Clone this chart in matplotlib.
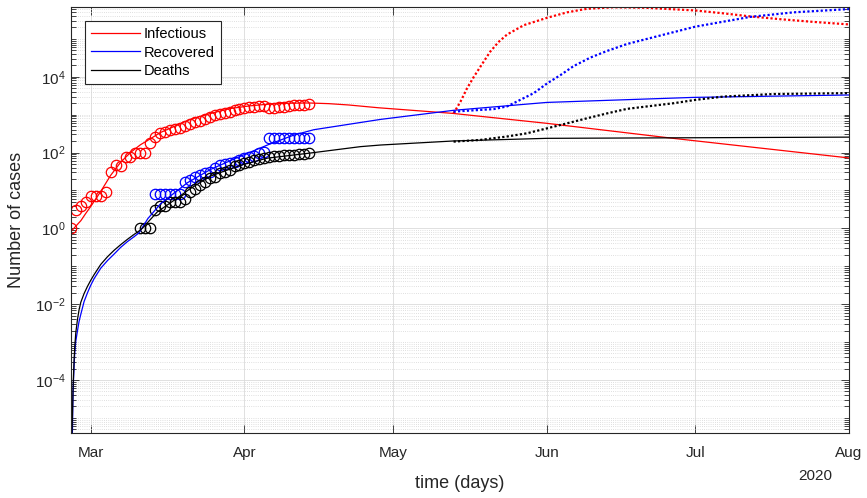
import numpy as np
import matplotlib
matplotlib.use('Agg')
import matplotlib.pyplot as plt
import matplotlib.dates as mdates
from matplotlib.ticker import LogLocator, NullFormatter

plt.rcParams['font.family'] = ['Liberation Sans', 'DejaVu Sans']
plt.rcParams['mathtext.default'] = 'regular'

#observations, one per day from Feb 26
start_date  = '2020-02-26'
inf_obs     = [1, 3, 4, 5, 7, 7, 7, 9, 30,
               46, 45, 74, 74, 96, 100, 96, 175,
               250, 320, 345, 390, 420, 450, 500, 570,
               625, 700, 790, 880, 960, 1040, 1120, 1200,
               1300, 1420, 1520, 1570, 1610, 1640, 1670, 1480,
               1500, 1560, 1620, 1700, 1780, 1820, 1850, 1870]
rec_first   = 17                        #day index of first recovered value
rec_obs     = [8, 8, 8, 8, 8, 8, 17, 19, 22, 26, 28, 31, 40, 47, 49, 53, 58,
               65, 71, 78, 83, 95, 106, 237, 237, 237, 237, 237, 237, 237, 237, 237]
dea_first   = 14                        #day index of first death value
dea_obs     = [1, 1, 1, 3, 4, 4, 5, 5, 5, 6, 9, 11, 14, 17, 21, 23, 28, 31, 35, 43,
               47, 52, 58, 62, 68, 72, 76, 79, 82, 84, 86, 88, 90, 92, 95]

#fitted model (solid), days since Feb 26
inf_fit_day = [0, 1, 2, 3, 4, 6, 8, 10, 12, 14, 16, 18, 21, 24, 28, 32, 36, 40, 44, 48,
               52, 56, 62, 77, 96, 121.5, 157]
inf_fit     = [0.83, 1.15, 1.6, 2.5, 3.8, 9.4, 25, 55, 100, 160, 230, 335, 500, 740, 1060,
               1440, 1700, 1900, 2000, 2030, 1950, 1800, 1520, 1080, 590, 237, 72]
rec_fit_day = [0.1, 0.3, 0.36, 0.42, 0.5, 0.63, 0.77, 0.97, 1.31, 1.63, 1.98, 2.64, 3.33,
               3.99, 4.66, 6.01, 7.36, 8.69, 10.04, 11.39, 12.72, 13.73, 15.5, 18.1,
               23.5, 28.2, 34.2, 40, 45, 49, 58.4, 62.5, 77.2, 96, 125.6, 157]
rec_fit     = [1e-6, 5.0e-6, 2.0e-5, 5.0e-5, 9.3e-5, 2.5e-4, 5.6e-4, 1.05e-3, 2.0e-3,
               3.5e-3, 5.4e-3, 0.0117, 0.02, 0.0316, 0.047, 0.089, 0.141, 0.209, 0.316,
               0.447, 0.60, 0.76, 1.8, 4.5, 16, 36, 80, 165, 290, 400, 620, 750, 1300,
               2100, 2850, 3300]
dea_fit_day = [0.05, 0.3, 0.42, 0.5, 0.63, 0.77, 0.97, 1.31, 1.63, 1.98, 2.64, 3.33, 3.99,
               4.66, 6.01, 7.36, 8.69, 10.04, 11.39, 12.72, 13.73, 14.4, 17.4, 20.8, 24,
               28.2, 34.2, 39.6, 48, 58.4, 62.5, 77.2, 96, 157]
dea_fit     = [1e-6, 1.26e-5, 6.3e-5, 1.26e-4, 3.5e-4, 7.9e-4, 1.78e-3, 4.0e-3, 7.1e-3,
               0.0112, 0.019, 0.0295, 0.0427, 0.060, 0.112, 0.178, 0.263, 0.372, 0.513,
               0.69, 0.85, 1.0, 2.7, 5.5, 11, 24, 46, 71, 96, 143, 158, 202, 237, 255]

#scenario after May 13 (dotted)
inf_scn_day = [77.2, 78.6, 79.9, 81.3, 83.0, 84.6, 86.3, 88.0, 91.4, 96.1, 100.1, 104.1,
               109.4, 116, 126, 131.7, 137.1, 143.1, 149.8, 157]
inf_scn     = [1080, 2200, 4900, 1.0e4, 2.2e4, 4.6e4, 8.3e4, 1.3e5, 2.3e5, 3.6e5, 5.0e5,
               6.2e5, 6.8e5, 6.6e5, 5.6e5, 4.7e5, 3.9e5, 3.3e5, 2.8e5, 2.4e5]
rec_scn_day = [77.2, 81.3, 85.3, 88.0, 90.7, 93.4, 96.1, 98.75, 101.4, 104.8, 108.2,
               112.2, 114.9, 126, 137.1, 145.8, 157]
rec_scn     = [1200, 1300, 1400, 1650, 2470, 3700, 6700, 1.1e4, 1.9e4, 3.2e4, 4.8e4,
               7.3e4, 9.0e4, 2.1e5, 3.8e5, 5.0e5, 6.1e5]
dea_scn_day = [77.2, 82.6, 88.0, 92.0, 96.1, 100.1, 104.1, 108.2, 112.2, 121.6, 126,
               131.7, 141.8, 157]
dea_scn     = [194, 215, 265, 322, 436, 590, 800, 1080, 1420, 2000, 2450, 3000, 3500, 3700]

month_ticks  = ['2020-03-01', '2020-04-01', '2020-05-01', '2020-06-01', '2020-07-01', '2020-08-01']
month_labels = ['Mar', 'Apr', 'May', 'Jun', 'Jul', 'Aug']
ytick_vals   = [1e-4, 1e-2, 1e0, 1e2, 1e4]
ytick_labels = [r'$\mathdefault{10^{-4}}$', r'$\mathdefault{10^{-2}}$', r'$\mathdefault{10^{0}}$',
                r'$\mathdefault{10^{2}}$', r'$\mathdefault{10^{4}}$']

t0 = mdates.date2num(np.datetime64(start_date))
def days(d, first=0):
    return t0 + first + np.asarray(d, dtype=float)

fig = plt.figure(figsize=(8.67, 4.98), dpi=100)
ax = fig.add_axes([71/867, 1-433/498, 778/867, 426/498])
ink = '#262626'

circ = dict(linestyle='none', marker='o', mfc='none', ms=7.5, mew=0.9)
ax.plot(days(np.arange(len(inf_obs))), inf_obs, mec='r', **circ)
ax.plot(days(np.arange(len(rec_obs)), rec_first), rec_obs, mec='b', **circ)
ax.plot(days(np.arange(len(dea_obs)), dea_first), dea_obs, mec='k', **circ)

ax.plot(days(inf_fit_day), inf_fit, color='r', lw=0.9, label='Infectious')
ax.plot(days(rec_fit_day), rec_fit, color='b', lw=0.9, label='Recovered')
ax.plot(days(dea_fit_day), dea_fit, color='k', lw=0.9, label='Deaths')

dots = dict(lw=1.6, linestyle=(0, (1.0, 1.0)))
ax.plot(days(inf_scn_day), inf_scn, color='r', **dots)
ax.plot(days(rec_scn_day), rec_scn, color='b', **dots)
ax.plot(days(dea_scn_day), dea_scn, color='k', **dots)

ax.set_yscale('log')
ax.set_xlim(t0, t0 + 157)
ax.set_ylim(10**-5.4, 10**5.84)

ax.set_xticks([mdates.date2num(np.datetime64(m)) for m in month_ticks])
ax.set_xticklabels(month_labels)
ax.set_yticks(ytick_vals)
ax.set_yticklabels(ytick_labels)
ax.yaxis.set_minor_locator(LogLocator(base=10, subs=np.arange(1, 10), numticks=200))
ax.yaxis.set_minor_formatter(NullFormatter())

ax.tick_params(which='both', direction='in', top=True, right=True, color=ink,
               labelcolor=ink, labelsize=11, width=0.6)
ax.tick_params(which='major', length=6)
ax.tick_params(which='minor', length=3.5)
ax.tick_params(axis='x', pad=9)
ax.tick_params(axis='y', pad=4)

ax.grid(True, which='major', color='#dadada', lw=0.6)
ax.yaxis.grid(True, which='minor', color='#d5d5d5', lw=0.6, linestyle=(0, (1, 1.6)))
ax.set_axisbelow(True)
for s in ax.spines.values():
    s.set_color(ink)
    s.set_linewidth(0.8)

ax.set_xlabel('time (days)', fontsize=13, color=ink, va='center')
ax.xaxis.set_label_coords(0.5, (433-483)/426)
ax.set_ylabel('Number of cases', fontsize=13, color=ink, va='center')
ax.yaxis.set_label_coords((17-71)/778, 0.5)
fig.text(815.5/867, 1-476/498, '2020', ha='center', va='center', fontsize=11, color=ink)

leg = ax.legend(loc='upper left', bbox_to_anchor=(0.018, 0.967), borderaxespad=0,
                fontsize=10.5, fancybox=False, edgecolor=ink, framealpha=1,
                handlelength=3.4, handletextpad=0.25, labelspacing=0.32, borderpad=0.4)
leg.get_frame().set_linewidth(0.8)

fig.savefig('out.png', dpi=100)
